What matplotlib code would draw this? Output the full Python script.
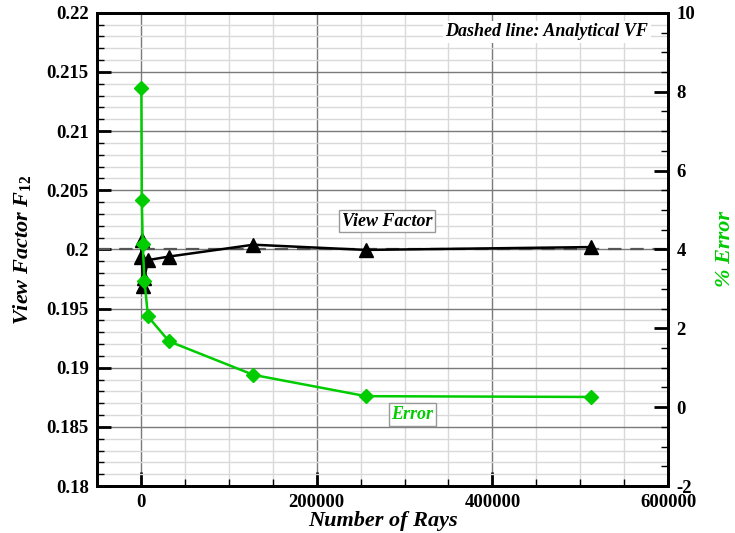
import matplotlib
matplotlib.use("Agg")
import matplotlib.pyplot as plt
from matplotlib.ticker import MultipleLocator

# data
n_rays = [500, 1000, 2000, 4000, 8000, 32000, 128000, 256000, 512000]
view_factor = [0.1994, 0.2008, 0.1969, 0.1976, 0.1991, 0.1994, 0.2004, 0.19996, 0.2002]
error_pct = [8.10, 5.26, 4.14, 3.21, 2.30, 1.67, 0.82, 0.28, 0.26]
analytical_vf = 0.2

green = "#00cc00"
serif = "Liberation Serif"

plt.rcParams["axes.unicode_minus"] = False
plt.rcParams["mathtext.fontset"] = "custom"
plt.rcParams["mathtext.it"] = "Liberation Serif:bold:italic"
plt.rcParams["mathtext.rm"] = "Liberation Serif:bold"

fig = plt.figure(figsize=(7.35, 5.33), dpi=100)
ax = fig.add_axes([0.132, 0.088, 0.777, 0.888])

# grid
ax.set_axisbelow(True)
ax.xaxis.set_major_locator(MultipleLocator(200000))
ax.xaxis.set_minor_locator(MultipleLocator(50000))
ax.yaxis.set_major_locator(MultipleLocator(0.005))
ax.yaxis.set_minor_locator(MultipleLocator(0.001))
ax.grid(which="major", color="#7a7a7a", lw=1.0)
ax.grid(which="minor", color="#d9d9d9", lw=1.0)

ax.axhline(analytical_vf, color="#555555", lw=1.6, ls=(0, (6, 4)), zorder=2)
ax.plot(n_rays, view_factor, color="black", lw=1.8, marker="^", ms=10, zorder=3)

ax.set_xlim(-50000, 600000)
ax.set_ylim(0.18, 0.22)
ax.set_yticks([0.18, 0.185, 0.19, 0.195, 0.2, 0.205, 0.21, 0.215, 0.22])
ax.set_yticklabels(["0.18", "0.185", "0.19", "0.195", "0.2", "0.205", "0.21", "0.215", "0.22"])

ax.tick_params(which="major", direction="in", length=10, width=2, top=False, pad=6)
ax.tick_params(which="minor", direction="in", length=5, width=1, top=False, left=False)
for lab in ax.get_xticklabels() + ax.get_yticklabels():
    lab.set_fontfamily(serif)
    lab.set_fontweight("bold")
    lab.set_fontsize(13.5)

ax.set_xlabel("Number of Rays", fontfamily=serif, fontweight="bold", fontstyle="italic",
              fontsize=16, labelpad=0)
ax.set_ylabel(r"View Factor $F_{\mathit{12}}$", fontfamily=serif, fontweight="bold",
              fontstyle="italic", fontsize=16, labelpad=10)

for s in ax.spines.values():
    s.set_linewidth(2)

# error on right axis
ax2 = ax.twinx()
ax2.plot(n_rays, error_pct, color=green, lw=1.8, marker="D", ms=7, zorder=4)
ax2.set_ylim(-2, 10)
ax2.yaxis.set_major_locator(MultipleLocator(2))
ax2.yaxis.set_minor_locator(MultipleLocator(0.5))
ax2.tick_params(which="major", direction="in", length=10, width=2, pad=6)
ax2.tick_params(which="minor", direction="in", length=5, width=1)
for lab in ax2.get_yticklabels():
    lab.set_fontfamily(serif)
    lab.set_fontweight("bold")
    lab.set_fontsize(13.5)
ax2.set_ylabel("% Error", color=green, fontfamily=serif, fontweight="bold",
               fontstyle="italic", fontsize=16, labelpad=14)
for s in ax2.spines.values():
    s.set_linewidth(2)

# annotations
ax.text(0.965, 0.96, "Dashed line: Analytical VF", transform=ax.transAxes, ha="right", va="center",
        fontfamily=serif, fontweight="bold", fontstyle="italic", fontsize=13,
        bbox=dict(facecolor="white", edgecolor="none", pad=2), zorder=5)
ax.text(280000, 0.2024, "View Factor", ha="center", va="center",
        fontfamily=serif, fontweight="bold", fontstyle="italic", fontsize=13,
        bbox=dict(facecolor="white", edgecolor="#999999", pad=2), zorder=5)
ax.text(309000, 0.18605, "Error", ha="center", va="center", color=green,
        fontfamily=serif, fontweight="bold", fontstyle="italic", fontsize=13,
        bbox=dict(facecolor="white", edgecolor="#999999", pad=2), zorder=5)

fig.savefig("out.png", dpi=100)
